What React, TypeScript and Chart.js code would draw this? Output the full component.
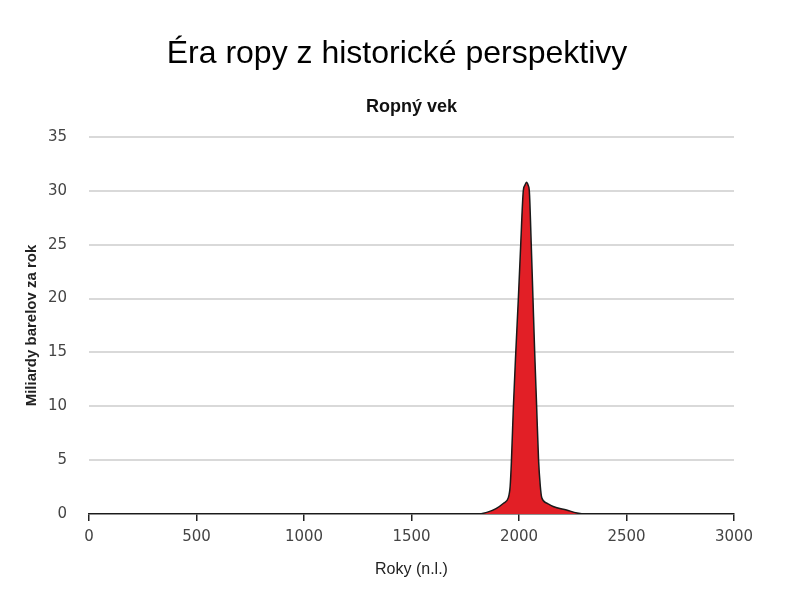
import React, { useEffect, useRef } from "react";
import { Chart, registerables } from "chart.js";

Chart.register(...registerables);

const years: number[] = [0, 1800, 1850, 1893, 1928, 1950, 1959, 1965, 1974, 1985, 1997, 2008, 2020, 2027, 2035, 2043, 2048, 2057, 2065, 2073, 2082, 2091, 2099, 2106, 2130, 2159, 2221, 2270, 2307, 3000];
const barrels: number[] = [0, 0, 0.15, 0.5, 1.0, 1.5, 2.6, 5, 10, 15, 20, 25, 30, 30.5, 30.8, 30.5, 30, 25, 20, 15, 10, 5, 2.6, 1.5, 1.0, 0.7, 0.37, 0.1, 0, 0];

const xTicks: number[] = [0, 500, 1000, 1500, 2000, 2500, 3000];
const yTicks: number[] = [0, 5, 10, 15, 20, 25, 30, 35];

const mainTitle = "Éra ropy z historické perspektivy";
const subTitle = "Ropný vek";
const xTitle = "Roky (n.l.)";
const yTitle = "Miliardy barelov za rok";

export default function App() {
  const ref = useRef<HTMLCanvasElement | null>(null);

  useEffect(() => {
    if (!ref.current) return;
    const points = years.map((x, i) => ({ x, y: barrels[i] }));
    const tickFont = { family: "'DejaVu Sans', sans-serif", size: 15 };
    const chart = new Chart(ref.current, {
      type: "line",
      data: {
        datasets: [
          {
            data: points,
            borderColor: "#1a1a1a",
            borderWidth: 1.5,
            backgroundColor: "#e21f26",
            fill: "origin",
            pointRadius: 0,
            cubicInterpolationMode: "monotone",
          },
        ],
      },
      options: {
        animation: false,
        responsive: false,
        maintainAspectRatio: false,
        layout: { padding: { left: 20, right: 20, top: 0, bottom: 0 } },
        plugins: {
          legend: { display: false },
          tooltip: { enabled: false },
          title: {
            display: true,
            text: mainTitle,
            color: "#000",
            font: { family: "'Liberation Sans', Arial, sans-serif", size: 32, weight: "normal" },
            padding: { top: 35, bottom: 0 },
          },
          subtitle: {
            display: true,
            text: subTitle,
            fullSize: false,
            color: "#111",
            font: { family: "'Liberation Sans', Arial, sans-serif", size: 18, weight: "bold" },
            padding: { top: 23, bottom: 19 },
          },
        },
        scales: {
          x: {
            type: "linear",
            min: 0,
            max: 3000,
            afterBuildTicks: (s: any) => {
              s.ticks = xTicks.map((v) => ({ value: v }));
            },
            afterFit: (s: any) => {
              s.height = 81;
            },
            ticks: { color: "#444", font: tickFont, padding: 7, maxRotation: 0, callback: (v: any) => String(v) },
            grid: {
              display: true,
              drawOnChartArea: false,
              drawTicks: true,
              tickLength: 7,
              color: "#222",
              lineWidth: 1.5,
            },
            border: { display: true, color: "#222", width: 1.5 },
            title: {
              display: true,
              text: xTitle,
              color: "#222",
              font: { family: "'Liberation Sans', Arial, sans-serif", size: 16, weight: "normal" },
              padding: { top: 0, bottom: 16 },
            },
          },
          y: {
            type: "linear",
            min: 0,
            max: 35,
            afterBuildTicks: (s: any) => {
              s.ticks = yTicks.map((v) => ({ value: v }));
            },
            afterFit: (s: any) => {
              s.width = 69;
            },
            ticks: { color: "#444", font: tickFont, padding: 22, callback: (v: any) => String(v) },
            grid: {
              drawTicks: false,
              lineWidth: 2,
              color: (ctx: any) => (ctx.tick && ctx.tick.value === 0 ? "rgba(0,0,0,0)" : "#d9d9d9"),
            },
            border: { display: false },
            title: {
              display: true,
              text: yTitle,
              color: "#222",
              font: { family: "'Liberation Sans', Arial, sans-serif", size: 15, weight: "bold" },
              padding: { top: 3, bottom: 0 },
            },
          },
          yRight: {
            type: "linear",
            position: "right",
            min: 0,
            max: 35,
            afterFit: (s: any) => {
              s.width = 40;
            },
            ticks: { display: false },
            grid: { display: false, drawOnChartArea: false },
            border: { display: false },
          },
        },
      },
    });
    return () => chart.destroy();
  }, []);

  return (
    <div style={{ position: "fixed", left: 0, top: 0, width: 794, height: 595, background: "#fff" }}>
      <canvas ref={ref} width={794} height={595} style={{ display: "block", width: 794, height: 595 }} />
    </div>
  );
}
